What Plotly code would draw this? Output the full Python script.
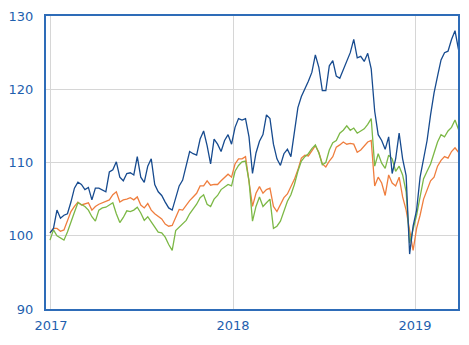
import pandas as pd
import plotly.graph_objects as go

# Weekly closes, indexed to 100 at the start of 2017
dates = pd.date_range("2016-12-30", periods=118, freq="W-FRI")

series_blue = [
    100.4, 101.0, 103.5, 102.4, 102.8, 103.0, 104.6, 106.5, 107.3, 107.0,
    106.3, 106.6, 104.9, 106.5, 106.5, 106.3, 106.0, 108.7, 109.0, 110.1,
    108.0, 107.5, 108.5, 108.6, 108.3, 110.8, 108.0, 107.3, 109.5, 110.5,
    107.0, 106.0, 105.5, 104.6, 103.8, 103.5, 105.2, 106.8, 107.6, 109.4,
    111.5, 111.2, 111.0, 113.2, 114.3, 112.3, 109.8, 113.2, 112.5, 111.5,
    113.0, 113.8, 112.5, 114.8, 116.0, 115.8, 116.0, 113.5, 108.5, 111.3,
    112.9, 113.8, 116.5, 116.0, 112.5, 110.5, 109.6, 111.2, 111.8, 110.8,
    114.5, 117.5, 119.0, 120.0, 121.1, 122.3, 124.7, 123.0, 119.8, 119.8,
    123.2, 123.9, 121.8, 121.5, 122.6, 123.8, 125.0, 126.8, 124.3, 124.5,
    123.8, 124.9, 122.8, 117.0, 113.8, 113.0, 111.8, 113.5, 108.5, 110.5,
    114.0, 110.5, 108.2, 97.5, 101.3, 103.5, 108.0, 110.5, 113.0, 116.5,
    119.5, 121.8, 124.0, 125.0, 125.2, 126.8, 128.0, 125.4,
]

series_orange = [
    100.4, 101.0, 101.0, 100.6, 100.8, 102.0, 103.3, 104.0, 104.6, 104.2,
    104.3, 104.5, 103.5, 104.0, 104.3, 104.5, 104.6, 104.9, 105.6, 106.0,
    104.6, 104.9, 105.0, 105.2, 104.9, 105.3, 104.2, 103.8, 104.4, 103.5,
    103.0, 102.7, 102.3, 101.6, 101.3, 101.4, 102.6, 103.6, 103.5, 104.2,
    104.8, 105.3, 105.8, 106.8, 106.8, 107.5, 106.9, 107.0, 107.0, 107.5,
    108.0, 108.4, 108.0, 109.8, 110.5, 110.5, 110.8, 107.5, 104.0, 105.8,
    106.7, 105.8, 106.3, 106.5, 104.0, 103.3, 104.2, 105.2, 105.7, 106.6,
    107.7, 109.0, 110.6, 111.0, 110.9, 111.6, 112.3, 111.4, 109.8, 109.4,
    110.2, 110.8, 112.1, 112.4, 112.8, 112.5, 112.6, 112.5, 111.4, 111.7,
    112.2, 112.8, 113.0, 106.8, 108.0, 107.2, 105.5, 108.3, 107.2, 106.8,
    108.0, 105.3, 103.5, 100.5, 98.0, 101.0, 102.8, 105.0, 106.3, 107.5,
    108.0, 109.5, 110.3, 110.8, 110.6, 111.5, 112.0, 111.4,
]

series_green = [
    99.4, 100.8, 100.0, 99.7, 99.4, 100.5, 102.0, 103.2, 104.5, 104.2,
    104.0, 103.5, 102.6, 102.0, 103.5, 103.8, 103.9, 104.2, 104.5, 103.0,
    101.8, 102.5, 103.4, 103.3, 103.5, 103.9, 103.1, 102.1, 102.6, 101.9,
    101.2, 100.5, 100.4, 99.8, 98.8, 98.0, 100.7, 101.2, 101.7, 102.1,
    103.0, 103.7, 104.3, 105.2, 105.6, 104.3, 104.0, 105.0, 105.5, 106.3,
    106.7, 107.0, 106.8, 108.8, 109.6, 110.1, 110.2, 107.5, 102.0, 104.0,
    105.3, 104.0, 104.5, 105.0, 101.0, 101.3, 102.0, 103.3, 104.7, 105.6,
    107.0, 108.8, 110.2, 110.8, 111.2, 111.9, 112.4, 111.3, 109.7, 110.0,
    111.7, 112.7, 113.0, 114.0, 114.4, 115.0, 114.4, 114.7, 114.0, 114.3,
    114.6, 115.2, 116.0, 109.5, 111.2, 109.9, 109.2, 111.0, 110.5, 108.8,
    109.5, 108.3, 106.0, 99.0, 100.8, 102.8, 105.3, 107.8, 108.8, 109.8,
    111.3, 112.8, 113.8, 113.5, 114.3, 114.8, 115.8, 114.5,
]

y_ticks = [90, 100, 110, 120, 130]

AXIS_BLUE = "#2e6cb8"
LABEL_BLUE = "#1f5fae"
GRID = "#d6d6d6"

fig = go.Figure()
for values, color in [
    (series_orange, "#ef7e3e"),
    (series_green, "#7cb846"),
    (series_blue, "#174b8f"),
]:
    fig.add_trace(go.Scatter(
        x=dates, y=values, mode="lines",
        line=dict(color=color, width=1.3),
        showlegend=False, hoverinfo="skip",
    ))

fig.update_layout(
    width=469, height=345,
    margin=dict(l=42, r=9, t=16, b=36),
    paper_bgcolor="white", plot_bgcolor="white",
    font=dict(family="DejaVu Sans", size=13, color=LABEL_BLUE),
)
fig.update_xaxes(
    range=["2016-12-22", "2019-03-28"],
    tick0="2017-01-01", dtick="M12", tickformat="%Y",
    showgrid=True, gridcolor=GRID, gridwidth=1,
    showline=True, linecolor=AXIS_BLUE, linewidth=2, mirror=True,
    ticks="outside", ticklen=3, tickcolor="rgba(0,0,0,0)",
    zeroline=False,
)
fig.update_yaxes(
    range=[90, 130], tickvals=y_ticks,
    showgrid=True, gridcolor=GRID, gridwidth=1,
    showline=True, linecolor=AXIS_BLUE, linewidth=2, mirror=True,
    ticks="outside", ticklen=8, tickcolor="rgba(0,0,0,0)",
    zeroline=False,
)

fig.write_html("out.html")
